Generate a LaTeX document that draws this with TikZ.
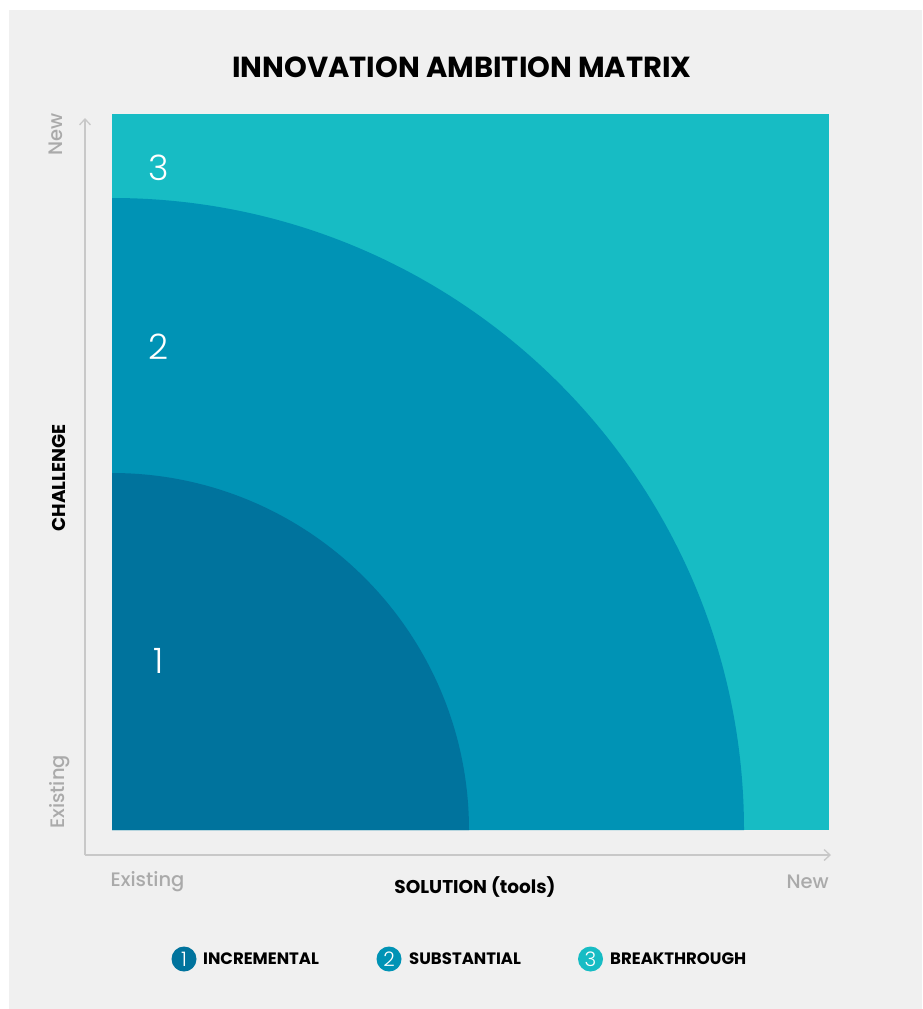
\documentclass[tikz,border=0pt]{standalone}
\usepackage{fontspec}
\setmainfont{Poppins}
\newfontfamily\poplight{Poppins Light}
\newfontfamily\popmed{Poppins Medium}
\usetikzlibrary{arrows.meta}
\definecolor{bgc}{HTML}{F0F0F0}
\definecolor{darkc}{HTML}{00739D}
\definecolor{midc}{HTML}{0093B5}
\definecolor{lightc}{HTML}{17BCC4}
\definecolor{axisc}{HTML}{C8C8C8}
\definecolor{axtext}{HTML}{AAAAAA}
\begin{document}
\begin{tikzpicture}[x=1pt,y=-1pt,
  axisline/.style={draw=axisc,line width=1.5pt,-{Straight Barb[length=6pt,width=11pt,line width=1.3pt]}},
  axlabel/.style={text=axtext,font=\fontsize{19.5}{19.5}\selectfont\popmed,inner sep=0pt},
  boldlabel/.style={text=black,font=\fontsize{18.5}{18.5}\selectfont\bfseries,inner sep=0pt},
  zonenum/.style={text=white,font=\fontsize{35}{35}\selectfont\poplight,inner sep=0pt},
  legcircle/.style={circle,minimum size=25pt,inner sep=0pt,text=white,font=\fontsize{20}{20}\selectfont\poplight},
  legtext/.style={text=black,font=\fontsize{16.5}{16.5}\selectfont\bfseries,inner sep=0pt,anchor=west}
]
\useasboundingbox (0,0) rectangle (922,1009);
\fill[white] (0,0) rectangle (922,1009);
\fill[bgc] (9,10) rectangle (922,1009);

% title
\node[font=\fontsize{29}{29}\selectfont\bfseries,inner sep=0pt] (title) at (462,67) {INNOVATION AMBITION MATRIX};

% zones
\fill[lightc] (112,114) rectangle (829,830);
\fill[midc] (112,830) -- (744,830) arc[start angle=0,end angle=-90,radius=632] -- cycle;
\fill[darkc] (112,830) -- (469,830) arc[start angle=0,end angle=-90,radius=357] -- cycle;

\node[zonenum] (z3) at (159,168) {3};
\node[zonenum] (z2) at (159,347) {2};
\node[zonenum] (z1) at (159,661) {1};

% axes
\coordinate (origin) at (85,855);
\coordinate (ytip) at (85,118);
\coordinate (xtip) at (831,855);
\draw[axisline] (origin) -- (ytip);
\draw[axisline] (origin) -- (xtip);

\node[axlabel,rotate=90] (ynew) at (56,134) {New};
\node[axlabel,rotate=90] (yex) at (60,792) {Existing};
\node[axlabel] (xex) at (147.5,882) {Existing};
\node[axlabel,anchor=east] (xnew) at (829,882) {New};

\node[boldlabel,rotate=90] (chal) at (59,478) {CHALLENGE};
\node[boldlabel] (sol) at (475,887) {SOLUTION (tools)};

% legend
\node[legcircle,fill=darkc] (c1) at (184,959) {1};
\node[legtext] (l1) at (203,959) {INCREMENTAL};
\node[legcircle,fill=midc] (c2) at (389,959) {2};
\node[legtext] (l2) at (409,959) {SUBSTANTIAL};
\node[legcircle,fill=lightc] (c3) at (590.5,959) {3};
\node[legtext] (l3) at (610,959) {BREAKTHROUGH};
\end{tikzpicture}
\end{document}
